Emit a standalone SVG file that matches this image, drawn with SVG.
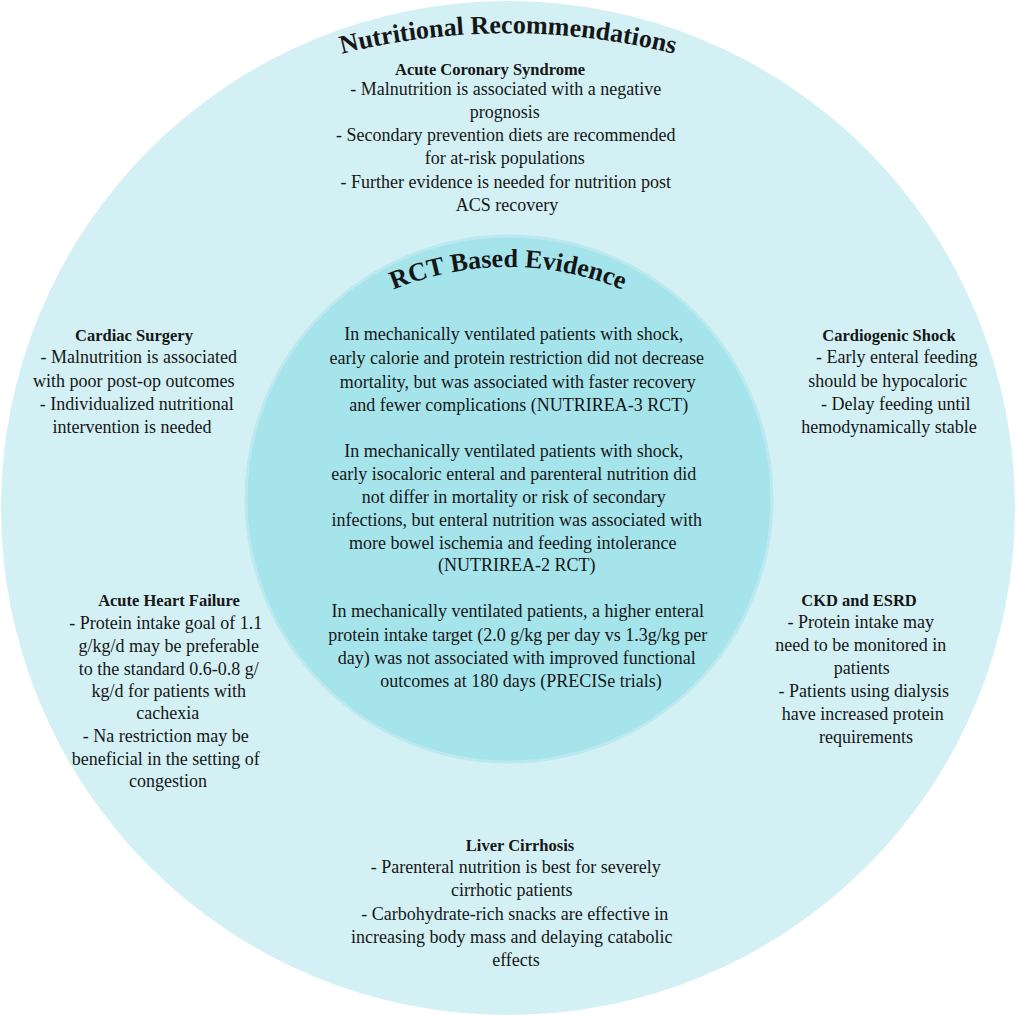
<svg xmlns="http://www.w3.org/2000/svg" width="1016" height="1015" viewBox="0 0 1016 1015">
<style>
  text { font-family: "Liberation Serif", "Times New Roman", serif; fill: #161616; }
  .h { font-size: 16.5px; font-weight: bold; text-anchor: middle; }
  .t { font-size: 18px; text-anchor: middle; }
  .title { font-size: 26px; font-weight: bold; }
</style>
<defs>
  <path id="arcOuter" d="M198,108 A680,680 0 0 1 818,108"/>
  <path id="arcInner" d="M268,387 A300,300 0 0 1 748,387"/>
</defs>
<rect width="1016" height="1015" fill="#ffffff"/>
<g id="outer-ring">
  <circle cx="508" cy="508" r="507" fill="#d3f1f5"/>
  <text class="title"><textPath href="#arcOuter" startOffset="50%" text-anchor="middle">Nutritional Recommendations</textPath></text>
</g>
<g id="inner-circle">
  <circle cx="509" cy="499" r="263" fill="#a5e4eb" stroke="#bce9ef" stroke-width="3"/>
  <text class="title"><textPath href="#arcInner" startOffset="50%" text-anchor="middle">RCT Based Evidence</textPath></text>
  <text class="t">
    <tspan x="516" y="340">In mechanically ventilated patients with shock,</tspan>
    <tspan x="519" y="364">early calorie and protein restriction did not decrease</tspan>
    <tspan x="520" y="388">mortality, but was associated with faster recovery</tspan>
    <tspan x="521" y="411">and fewer complications (NUTRIREA-3 RCT)</tspan>
    <tspan x="516" y="457">In mechanically ventilated patients with shock,</tspan>
    <tspan x="516" y="480">early isocaloric enteral and parenteral nutrition did</tspan>
    <tspan x="516" y="503">not differ in mortality or risk of secondary</tspan>
    <tspan x="519" y="526">infections, but enteral nutrition was associated with</tspan>
    <tspan x="515" y="549">more bowel ischemia and feeding intolerance</tspan>
    <tspan x="519" y="571">(NUTRIREA-2 RCT)</tspan>
    <tspan x="520" y="617">In mechanically ventilated patients, a higher enteral</tspan>
    <tspan x="520" y="641">protein intake target (2.0 g/kg per day vs 1.3g/kg per</tspan>
    <tspan x="519" y="664">day) was not associated with improved functional</tspan>
    <tspan x="521" y="687">outcomes at 180 days (PRECISe trials)</tspan>
  </text>
</g>
<g id="acs">
  <text class="h" x="490" y="75">Acute Coronary Syndrome</text>
  <text class="t">
    <tspan x="508" y="95">- Malnutrition is associated with a negative</tspan>
    <tspan x="507" y="118">prognosis</tspan>
    <tspan x="508" y="141">- Secondary prevention diets are recommended</tspan>
    <tspan x="507" y="164">for at-risk populations</tspan>
    <tspan x="508" y="188">- Further evidence is needed for nutrition post</tspan>
    <tspan x="507" y="211">ACS recovery</tspan>
  </text>
</g>
<g id="cardiac-surgery">
  <text class="h" x="134" y="341">Cardiac Surgery</text>
  <text class="t">
    <tspan x="141" y="363">- Malnutrition is associated</tspan>
    <tspan x="136" y="387">with poor post-op outcomes</tspan>
    <tspan x="139" y="410">- Individualized nutritional</tspan>
    <tspan x="132" y="433">intervention is needed</tspan>
  </text>
</g>
<g id="cardiogenic-shock">
  <text class="h" x="889" y="341">Cardiogenic Shock</text>
  <text class="t">
    <tspan x="899" y="363">- Early enteral feeding</tspan>
    <tspan x="890" y="387">should be hypocaloric</tspan>
    <tspan x="898" y="410">- Delay feeding until</tspan>
    <tspan x="889" y="433">hemodynamically stable</tspan>
  </text>
</g>
<g id="acute-heart-failure">
  <text class="h" x="169" y="606">Acute Heart Failure</text>
  <text class="t">
    <tspan x="168" y="629">- Protein intake goal of 1.1</tspan>
    <tspan x="171" y="652">g/kg/d may be preferable</tspan>
    <tspan x="171" y="675">to the standard 0.6-0.8 g/</tspan>
    <tspan x="171" y="697">kg/d for patients with</tspan>
    <tspan x="170" y="719">cachexia</tspan>
    <tspan x="168" y="742">- Na restriction may be</tspan>
    <tspan x="168" y="765">beneficial in the setting of</tspan>
    <tspan x="168" y="787">congestion</tspan>
  </text>
</g>
<g id="ckd-esrd">
  <text class="h" x="859" y="606">CKD and ESRD</text>
  <text class="t">
    <tspan x="863" y="628">- Protein intake may</tspan>
    <tspan x="863" y="651">need to be monitored in</tspan>
    <tspan x="864" y="674">patients</tspan>
    <tspan x="866" y="697">- Patients using dialysis</tspan>
    <tspan x="865" y="720">have increased protein</tspan>
    <tspan x="866" y="743">requirements</tspan>
  </text>
</g>
<g id="liver-cirrhosis">
  <text class="h" x="520" y="851">Liver Cirrhosis</text>
  <text class="t">
    <tspan x="518" y="873">- Parenteral nutrition is best for severely</tspan>
    <tspan x="514" y="896">cirrhotic patients</tspan>
    <tspan x="517" y="920">- Carbohydrate-rich snacks are effective in</tspan>
    <tspan x="514" y="943">increasing body mass and delaying catabolic</tspan>
    <tspan x="516" y="966">effects</tspan>
  </text>
</g>
</svg>
